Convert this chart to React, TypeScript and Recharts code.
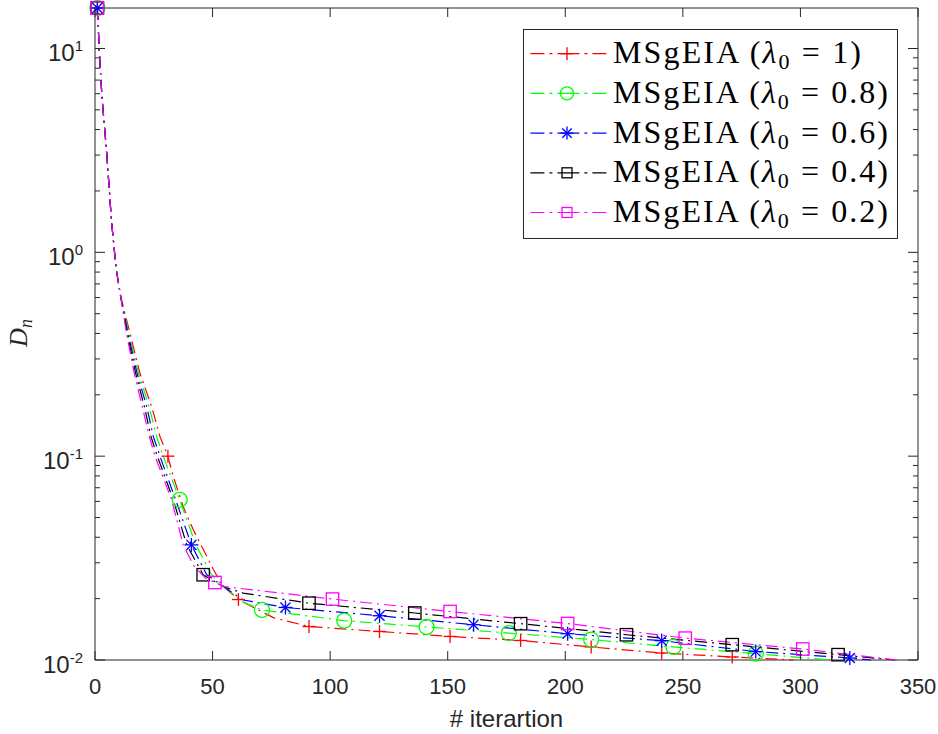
import React from "react";
import { LineChart, Line, XAxis, YAxis, ReferenceArea, Legend } from "recharts";

// Convergence of D_n versus iteration for five values of lambda_0 (log y).

const W = 938;
const H = 734;
const PLOT_LEFT = 95;
const PLOT_RIGHT = 918;
const PLOT_TOP = 8;
const PLOT_BOTTOM = 660;
const AXIS = "#262626";
const SANS = "'Liberation Sans', Arial, Helvetica, sans-serif";
const SERIF = "'Liberation Serif', 'Times New Roman', serif";

const xTicks = [0, 50, 100, 150, 200, 250, 300, 350];
const yDecades = [0.01, 0.1, 1];
const yTop = 10;

// red, lambda_0 = 1
const redIter = [1, 2, 3, 5, 7, 9, 11, 14.9, 19.1, 24.1, 27.6, 31, 33.2, 37.5, 41.8, 46, 50.3, 53.8, 56, 61, 76, 91, 121, 151, 181, 211, 241, 271, 297];
const redD = [15.8, 8.9, 5.7, 3.05, 1.43, 0.83, 0.6, 0.4, 0.255, 0.175, 0.125, 0.1, 0.08, 0.0566, 0.0435, 0.0349, 0.0279, 0.0236, 0.0222, 0.0198, 0.0161, 0.0146, 0.0138, 0.01305, 0.01247, 0.01159, 0.01082, 0.01035, 0.01];
const redMarks = [1, 31, 61, 91, 121, 151, 181, 211, 241, 271];

// green, lambda_0 = 0.8
const greenIter = [1, 2, 3, 5, 7, 9, 11, 14.4, 18.5, 23, 26.2, 29, 36, 42.9, 49.6, 55, 63, 71, 106, 141, 176, 211, 246, 281, 313];
const greenD = [15.8, 8.9, 5.7, 3.05, 1.43, 0.83, 0.6, 0.4, 0.255, 0.175, 0.125, 0.1, 0.0611, 0.0367, 0.0262, 0.0228, 0.0192, 0.0176, 0.0156, 0.01452, 0.01356, 0.0126, 0.01159, 0.01074, 0.01];
const greenMarks = [1, 36, 71, 106, 141, 176, 211, 246, 281];

// blue, lambda_0 = 0.6
const blueIter = [1, 2, 3, 5, 7, 9, 11, 14, 17.9, 22, 24.8, 27.6, 34.3, 41, 47.5, 55, 63, 81, 121, 161, 201, 241, 281, 321, 330];
const blueD = [15.8, 8.9, 5.7, 3.05, 1.43, 0.83, 0.6, 0.4, 0.255, 0.175, 0.125, 0.1, 0.0611, 0.0367, 0.0262, 0.0228, 0.0197, 0.0181, 0.01649, 0.0149, 0.01346, 0.01244, 0.011, 0.01023, 0.01];
const blueMarks = [1, 41, 81, 121, 161, 201, 241, 281, 321];

// black, lambda_0 = 0.4
const blackIter = [1, 2, 3, 5, 7, 9, 11, 13.7, 17.3, 21, 23.8, 26.5, 33.3, 39, 46, 55, 63, 91, 136, 181, 226, 271, 316, 340];
const blackD = [15.8, 8.9, 5.7, 3.05, 1.43, 0.83, 0.6, 0.4, 0.255, 0.175, 0.125, 0.1, 0.0611, 0.0367, 0.0262, 0.0228, 0.0213, 0.019, 0.017, 0.01507, 0.0133, 0.01189, 0.01062, 0.01];
const blackMarks = [1, 46, 91, 136, 181, 226, 271, 316];

// magenta, lambda_0 = 0.2
const magentaIter = [1, 2, 3, 5, 7, 9, 11, 13.4, 16.7, 20.1, 23.1, 25.5, 32.6, 37.5, 42, 47, 51, 55, 79, 101, 151, 201, 251, 301, 341];
const magentaD = [15.8, 8.9, 5.7, 3.05, 1.43, 0.83, 0.6, 0.4, 0.255, 0.175, 0.125, 0.1, 0.0611, 0.0367, 0.029, 0.0252, 0.024, 0.0229, 0.0213, 0.0199, 0.0173, 0.0151, 0.0128, 0.01132, 0.01];
const magentaMarks = [1, 51, 101, 151, 201, 251, 301];

const lambdas = ["1", "0.8", "0.6", "0.4", "0.2"];

type Shape = "plus" | "circle" | "star" | "square";

const build = (iter: number[], d: number[], marks: number[]) =>
  iter.map((x, i) => ({ x, d: d[i], m: marks.includes(x) }));

const series = [
  { key: "r", color: "#ff0000", shape: "plus" as Shape, size: 6.5, data: build(redIter, redD, redMarks) },
  { key: "g", color: "#00ff00", shape: "circle" as Shape, size: 7.5, data: build(greenIter, greenD, greenMarks) },
  { key: "b", color: "#0000ff", shape: "star" as Shape, size: 7, data: build(blueIter, blueD, blueMarks) },
  { key: "k", color: "#000000", shape: "square" as Shape, size: 6.2, data: build(blackIter, blackD, blackMarks) },
  { key: "m", color: "#ff00ff", shape: "square" as Shape, size: 6.2, data: build(magentaIter, magentaD, magentaMarks) },
];

const yTicks = [...yDecades.flatMap((dec) => [1, 2, 3, 4, 5, 6, 7, 8, 9].map((k) => dec * k)), yTop];
const isMajor = (v: number) => Math.abs(Math.log10(v) - Math.round(Math.log10(v))) < 1e-6;

function Marker({ shape, cx, cy, color, s }: { shape: Shape; cx: number; cy: number; color: string; s: number }) {
  const sw = 1.3;
  if (shape === "plus") {
    return (
      <g stroke={color} strokeWidth={sw}>
        <line x1={cx - s} x2={cx + s} y1={cy} y2={cy} />
        <line x1={cx} x2={cx} y1={cy - s} y2={cy + s} />
      </g>
    );
  }
  if (shape === "circle") return <circle cx={cx} cy={cy} r={s} fill="none" stroke={color} strokeWidth={sw} />;
  if (shape === "star") {
    const d = s * 0.72;
    return (
      <g stroke={color} strokeWidth={sw}>
        <line x1={cx - s} x2={cx + s} y1={cy} y2={cy} />
        <line x1={cx} x2={cx} y1={cy - s} y2={cy + s} />
        <line x1={cx - d} x2={cx + d} y1={cy - d} y2={cy + d} />
        <line x1={cx - d} x2={cx + d} y1={cy + d} y2={cy - d} />
      </g>
    );
  }
  return <rect x={cx - s} y={cy - s} width={2 * s} height={2 * s} fill="none" stroke={color} strokeWidth={sw} />;
}

function XTick(props: any) {
  const { x, y, payload } = props;
  return (
    <g>
      <line x1={x} x2={x} y1={PLOT_BOTTOM} y2={PLOT_BOTTOM - 9} stroke={AXIS} />
      <line x1={x} x2={x} y1={PLOT_TOP} y2={PLOT_TOP + 9} stroke={AXIS} />
      <text x={x} y={y + 34} textAnchor="middle" fontFamily={SANS} fontSize={22} fill={AXIS}>
        {payload.value}
      </text>
    </g>
  );
}

function YTick(props: any) {
  const { y, payload } = props;
  const major = isMajor(payload.value);
  const len = major ? 10 : 5;
  const exp = Math.round(Math.log10(payload.value));
  return (
    <g>
      <line x1={PLOT_LEFT} x2={PLOT_LEFT + len} y1={y} y2={y} stroke={AXIS} />
      <line x1={PLOT_RIGHT} x2={PLOT_RIGHT - len} y1={y} y2={y} stroke={AXIS} />
      {major && (
        <text x={83} y={y + 13} textAnchor="end" fontFamily={SANS} fontSize={24} fill={AXIS}>
          10
          <tspan fontSize={15} dy={-10}>{String(exp)}</tspan>
        </text>
      )}
    </g>
  );
}

function YLabel() {
  return (
    <text x={27} y={333} transform="rotate(-90, 27, 333)" textAnchor="middle" fontFamily={SERIF} fontSize={26} fill={AXIS}>
      <tspan fontStyle="italic">D</tspan>
      <tspan fontStyle="italic" fontSize={18} dy={5}>n</tspan>
    </text>
  );
}

function XLabel() {
  return (
    <text x={(PLOT_LEFT + PLOT_RIGHT) / 2} y={727} textAnchor="middle" fontFamily={SANS} fontSize={24} fill={AXIS}>
      # iterartion
    </text>
  );
}

function LegendBox() {
  const rowY = (i: number) => 24.7 + i * 39.7;
  const dash = "14 5 3 5";
  return (
    <svg width={376} height={211} style={{ display: "block" }}>
      <rect x={0.5} y={0.5} width={374} height={209} fill="#fff" stroke={AXIS} strokeWidth={1} />
      {series.map((s, i) => {
        const y = rowY(i);
        const lam = lambdas[i];
        return (
          <g key={s.key}>
            <line x1={7.4} x2={44} y1={y} y2={y} stroke={s.color} strokeWidth={1.2} strokeDasharray={dash} />
            <line x1={83.4} x2={44} y1={y} y2={y} stroke={s.color} strokeWidth={1.2} strokeDasharray={dash} />
            <Marker shape={s.shape} cx={44} cy={y} color={s.color} s={s.shape === "square" ? 5 : 6.5} />
            <text
              x={90}
              y={y + 9.5}
              fontFamily={SERIF}
              fontSize={32}
              fill="#000"
              textLength={lam === "1" ? 248 : 275}
              lengthAdjust="spacing"
            >
              MSgEIA (<tspan fontStyle="italic">λ</tspan>
              <tspan fontSize={22} dy={6}>0</tspan>
              <tspan dy={-6}> = {lam})</tspan>
            </text>
          </g>
        );
      })}
    </svg>
  );
}

export default function App() {
  return (
    <div style={{ position: "absolute", left: 0, top: 0, width: W, height: H, background: "#fff" }}>
      <LineChart width={W} height={H} margin={{ top: PLOT_TOP, right: W - PLOT_RIGHT, left: 0, bottom: 0 }}>
        <XAxis
          type="number"
          dataKey="x"
          domain={[0, 350]}
          ticks={xTicks}
          interval={0}
          height={H - PLOT_BOTTOM}
          tickSize={0}
          tickMargin={0}
          tickLine={false}
          axisLine={false}
          tick={<XTick />}
          label={<XLabel />}
        />
        <YAxis
          type="number"
          scale="log"
          domain={[0.01, 15.8]}
          ticks={yTicks}
          interval={0}
          width={PLOT_LEFT}
          tickSize={0}
          tickMargin={0}
          tickLine={false}
          axisLine={false}
          tick={<YTick />}
          label={<YLabel />}
        />
        <ReferenceArea x1={0} x2={350} y1={0.01} y2={15.8} fill="none" stroke={AXIS} strokeWidth={1} />
        {series.map((s) => (
          <Line
            key={s.key}
            data={s.data}
            dataKey="d"
            type="linear"
            stroke={s.color}
            strokeWidth={1.2}
            strokeDasharray="12 5 2 5"
            isAnimationActive={false}
            activeDot={false}
            dot={(p: any) =>
              p.payload && p.payload.m ? (
                <g key={`${s.key}-${p.index}`}>
                  <Marker shape={s.shape} cx={p.cx} cy={p.cy} color={s.color} s={s.size} />
                </g>
              ) : (
                <g key={`${s.key}-${p.index}`} />
              )
            }
          />
        ))}
        <Legend
          layout="horizontal"
          verticalAlign="middle"
          align="center"
          wrapperStyle={{ left: 523, top: 29, width: 376, height: 211 }}
          content={() => <LegendBox />}
        />
      </LineChart>
    </div>
  );
}
